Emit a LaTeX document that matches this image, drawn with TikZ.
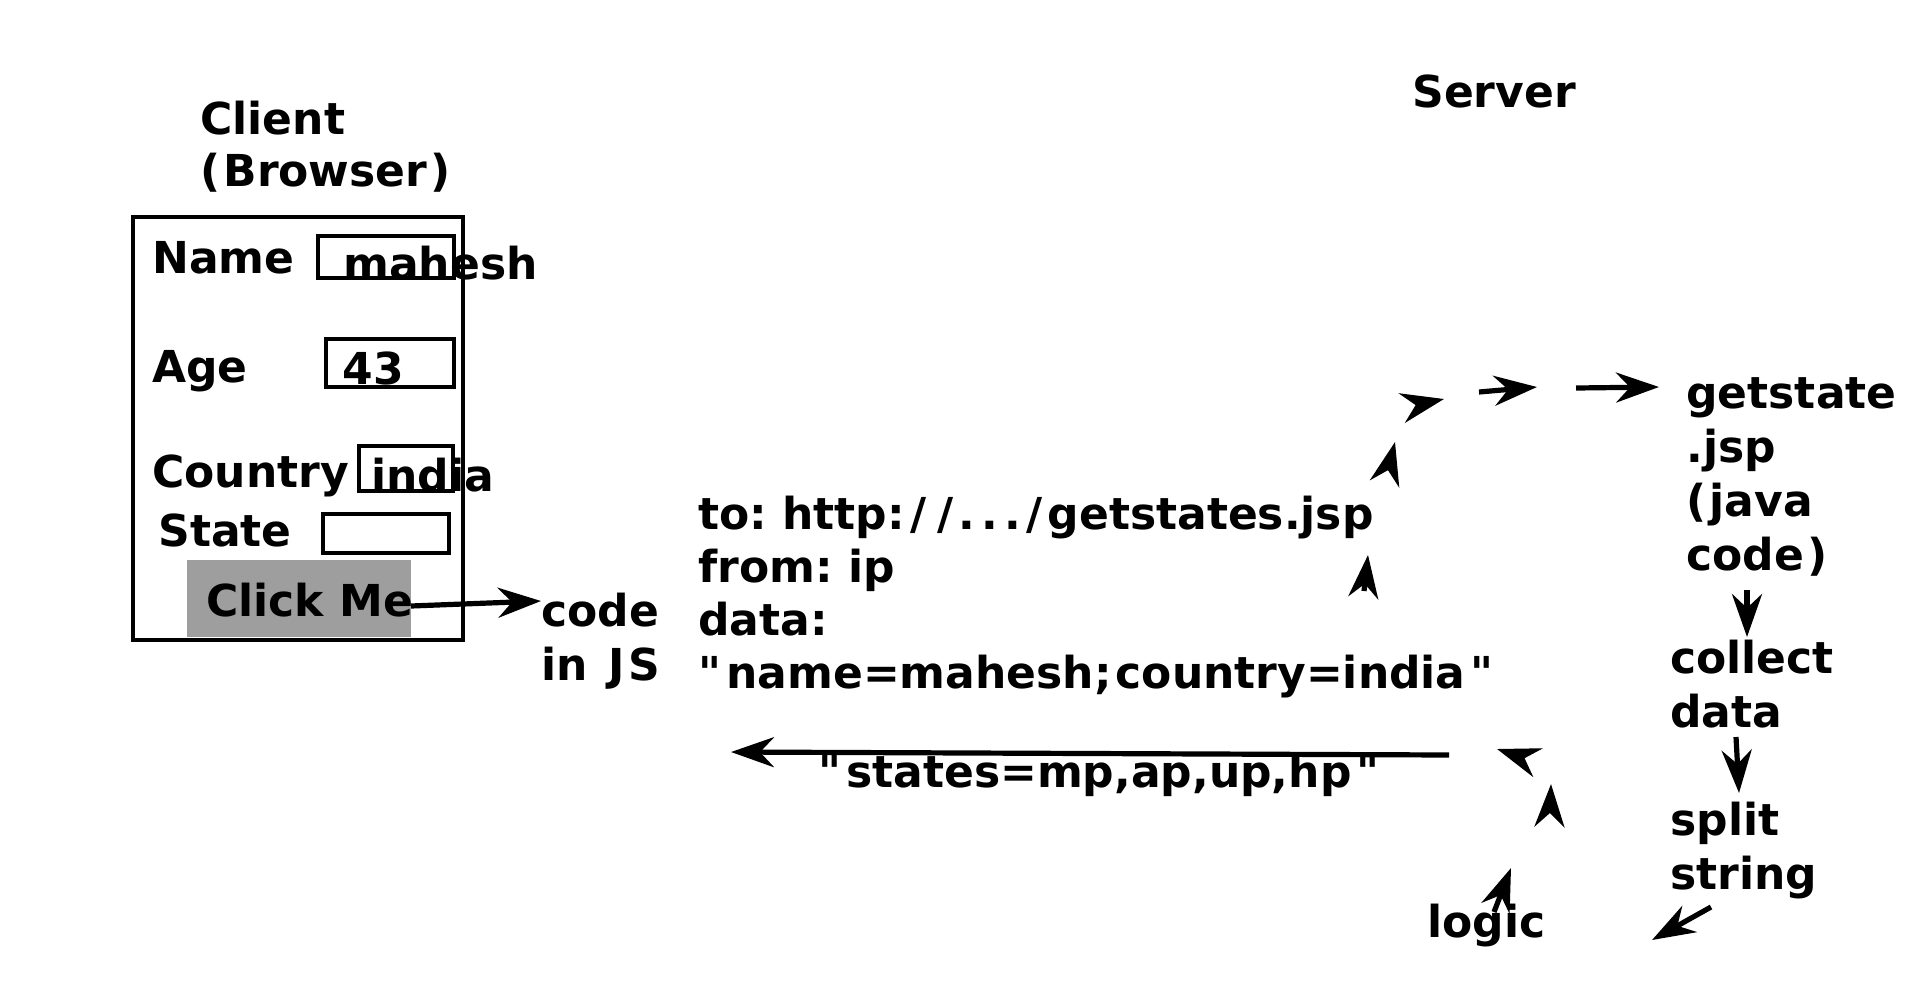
\documentclass[tikz,border=0pt]{standalone}
\usepackage{fontspec}
\setmainfont{DejaVu Sans}
\usetikzlibrary{arrows.meta}
\definecolor{btngray}{RGB}{158,158,158}
\newcommand\dq{\XeTeXglyph\XeTeXcharglyph"22\relax}
\newcommand\oq{\dq\kern2.5pt}
\newcommand\cq{\kern2.5pt\dq}
\newcommand\wsl{\kern2.7pt/\kern2.7pt}
\tikzset{
  lbl/.style={inner sep=0pt, anchor=base west, font=\bfseries\frenchspacing\fontsize{22}{27}\selectfont},
  mlbl/.style={inner sep=0pt, anchor=north west, align=left, font=\bfseries\frenchspacing\fontsize{22}{27}\selectfont},
  field/.style={draw, line width=1.9pt},
  frame/.style={draw, line width=2.3pt},
  arr/.style={line width=2.6pt, -{Stealth[length=21.5pt,width=15pt,inset=7pt]}},
}
\begin{document}
\begin{tikzpicture}[x=0.5pt,y=-0.5pt]
\useasboundingbox (0,0) rectangle (1920,991);
% titles
\node[mlbl, font=\bfseries\frenchspacing\fontsize{22}{26}\selectfont] (client) at (200,97.6) {\strut Client\\(\kern1.5pt Browser\kern1.5pt)};
\node[lbl] (server) at (1412,107) {Server};
% form
\draw[frame] (133,217) rectangle (463,640);
\node[lbl] (name) at (152,273) {Name};
\node[lbl] (age) at (152,382) {Age};
\node[lbl] (country) at (152,487) {Country};
\node[lbl] (state) at (158,546) {State};
\draw[field] (318,236) rectangle (454,278);
\draw[field] (326,339) rectangle (454,387);
\draw[field] (359,446) rectangle (453,491);
\draw[field] (323,514) rectangle (449,553);
\node[lbl] (mahesh) at (343,279) {mahesh};
\node[lbl] (fortythree) at (342,384) {43};
\node[lbl] (india) at (371,491) {india};
\fill[btngray] (187,560) rectangle (411,637);
\node[lbl] (click) at (206,616) {Click Me};
% client side code
\node[mlbl] (code) at (541,588.2) {\strut code\\in \kern2.5pt J\kern2pt S};
\coordinate (clickout) at (411,606);
\draw[arr] (clickout) -- (code.west |- 0,601);
% request
\node[mlbl, font=\bfseries\frenchspacing\fontsize{22}{26.5}\selectfont] (request) at (698,491.9)
  {\strut to: http:\wsl\wsl.\kern3pt.\kern3pt.\wsl getstates.jsp\\from: ip\\data:\\\oq name=mahesh;\kern2pt country=india\cq};
% server side
\node[mlbl] (jsp) at (1686,370.2) {\strut getstate\\.jsp\\(\kern1.5pt java\\code\kern1.5pt)};
\node[mlbl] (collect) at (1670,635.2) {\strut collect\\data};
\node[mlbl] (split) at (1670,797.2) {\strut split\\string};
\node[lbl] (logic) at (1427,937) {logic};
% response
\coordinate (resp) at (1449,755);
\coordinate (respend) at (731,752);
\draw[arr] (resp) -- (respend);
\node[lbl] (states) at (818,787) {\oq states=mp,ap,up,hp\cq};
% request path arrowheads
\coordinate (a1s) at (1364,591); \coordinate (a1e) at (1368,555);
\coordinate (a2s) at (1388,470); \coordinate (a2e) at (1395,442);
\coordinate (a3s) at (1416,405); \coordinate (a3e) at (1444,399);
\coordinate (a4s) at (1479,392); \coordinate (a4e) at (1537,387);
\coordinate (a5s) at (1576,388); \coordinate (a5e) at (1659,387);
\draw[arr] (a1s) -- (a1e);
\draw[arr] (a2s) -- (a2e);
\draw[arr] (a3s) -- (a3e);
\draw[arr] (a4s) -- (a4e);
\draw[arr] (a5s) -- (a5e);
% server steps
\coordinate (b1s) at (1747,590); \coordinate (b1e) at (1747,637);
\coordinate (b2s) at (1736,737); \coordinate (b2e) at (1739,793);
\coordinate (b3s) at (1711,907); \coordinate (b3e) at (1652,940);
\draw[arr] (b1s) -- (b1e);
\draw[arr] (b2s) -- (b2e);
\draw[arr] (b3s) -- (b3e);
% return path arrowheads
\coordinate (c1s) at (1494,912); \coordinate (c1e) at (1511,868);
\coordinate (c2s) at (1550,812); \coordinate (c2e) at (1551,784);
\coordinate (c3s) at (1524,758); \coordinate (c3e) at (1497,749);
\draw[arr] (c1s) -- (c1e);
\draw[arr] (c2s) -- (c2e);
\draw[arr] (c3s) -- (c3e);
\end{tikzpicture}
\end{document}
